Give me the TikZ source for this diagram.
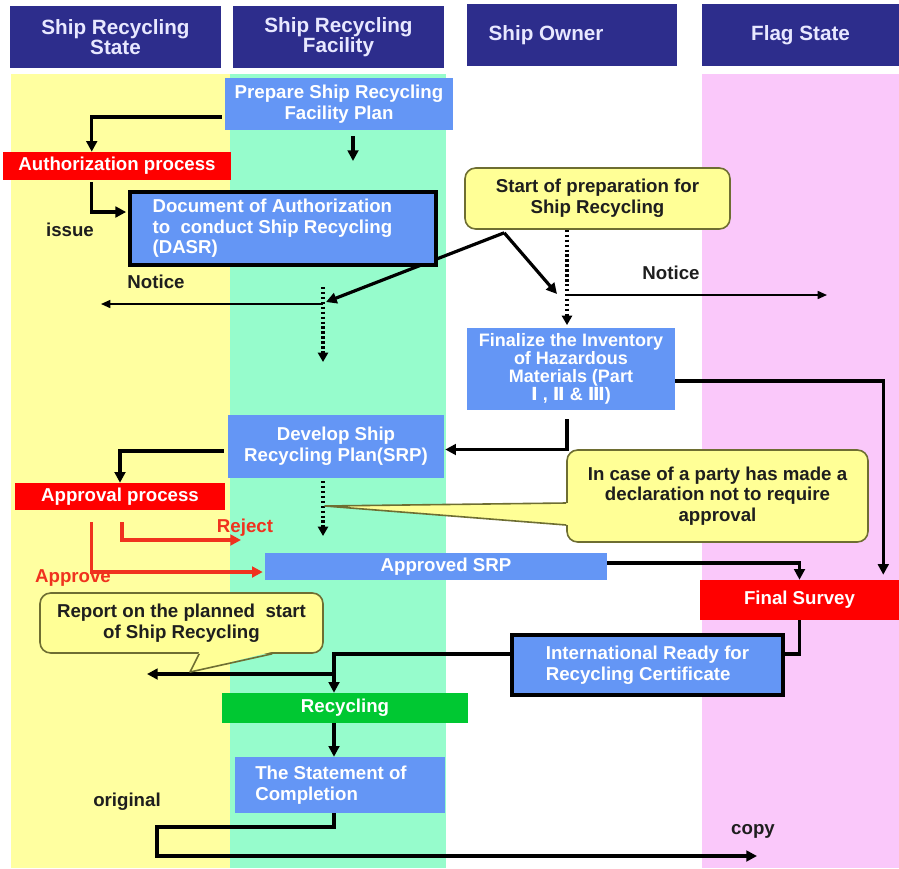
\documentclass[tikz,border=0pt]{standalone}
\usepackage{fontspec}
\setmainfont{Liberation Sans}
\newfontfamily\dv{DejaVu Sans}
\usetikzlibrary{arrows.meta,calc}
\pgfdeclarelayer{lanes}
\pgfdeclarelayer{bg}
\pgfsetlayers{lanes,bg,main}
\definecolor{cNavy}{RGB}{45,45,140}
\definecolor{cHd}{RGB}{232,232,255}
\definecolor{cLaneY}{RGB}{255,255,160}
\definecolor{cLaneG}{RGB}{150,252,204}
\definecolor{cLaneP}{RGB}{250,200,250}
\definecolor{cBlue}{RGB}{100,150,245}
\definecolor{cRed}{RGB}{255,0,0}
\definecolor{cGreen}{RGB}{0,200,50}
\definecolor{cFill}{RGB}{255,255,150}
\definecolor{cLine}{RGB}{110,110,50}
\definecolor{cRedLn}{RGB}{240,50,30}
\definecolor{cDark}{RGB}{30,30,30}
\begin{document}
\begin{tikzpicture}[x=0.75pt,y=-0.75pt,
  every node/.style={font=\fontsize{14}{15.5}\selectfont\bfseries, inner sep=0pt},
  sz/.style 2 args={minimum width=#1*0.75pt, minimum height=#2*0.75pt},
  header/.style={fill=cNavy, text=cHd, align=center, font=\fontsize{15.5}{15}\selectfont\bfseries},
  bluebox/.style={fill=cBlue, text=white, align=center},
  redbox/.style={fill=cRed, text=white, align=center},
  framed/.style={draw=black, line width=2.3pt},
  cbox/.style={fill=cFill, draw=cLine, line width=1.2pt, rounded corners=8pt, text=cDark, align=center},
  lbl/.style={text=cDark},
  rlbl/.style={text=cRedLn},
  conn/.style={draw=black, line width=2.4pt, -{Triangle[length=8pt,width=8pt]}},
  thinarrow/.style={draw=black, line width=1.2pt, -{Triangle[length=7pt,width=6pt]}},
  dotline/.style={draw=black, line width=2.6pt, dash pattern=on 1.8pt off 1.9pt, -{Triangle[length=7pt,width=7.5pt]}},
  redconn/.style={draw=cRedLn, line width=2.4pt, -{Triangle[length=8pt,width=8pt]}},
  tail/.style={draw=cLine, line width=1.2pt, line join=round}
]
\useasboundingbox (0,0) rectangle (899,868);
\begin{pgfonlayer}{lanes}
\fill[cLaneY] (11,74) rectangle (230,868);
\fill[cLaneG] (230,74) rectangle (446,868);
\fill[cLaneP] (702,74) rectangle (899,868);
\end{pgfonlayer}

% headers
\node[header, sz={211}{62}] (h1) at (115.5,37) {Ship Recycling\\State};
\node[header, sz={211}{62}] (h2) at (338.5,37) {Ship Recycling\\Facility};
\node[header, sz={210}{62}] (h3) at (572,35) {Ship Owner\hspace*{39pt}};
\node[header, sz={197}{62}] (h4) at (800.5,35) {Flag State};

% boxes
\node[bluebox, sz={228}{52}] (prep) at (339,104) {Prepare Ship Recycling\\Facility Plan};
\node[redbox, sz={228}{28}] (auth) at (117,166) {Authorization process};
\node[bluebox, framed, align=left, sz={306}{73}] (dasr) at (283,228.5) {Document of Authorization\hspace*{16pt}\\to\ \ conduct Ship Recycling\\(DASR)};
\node[cbox, sz={265}{61}] (start) at (597.5,198.5) {Start of preparation for\\Ship Recycling};
\node[bluebox, sz={208}{82}, font=\fontsize{13.5}{13.5}\selectfont\bfseries] (final) at (571,369) {Finalize the Inventory\\of Hazardous\\Materials (Part\\{\dv Ⅰ} , {\dv Ⅱ} \& {\dv Ⅲ})};
\node[bluebox, sz={216}{63}] (dev) at (336,446.5) {Develop Ship\\Recycling Plan(SRP)};
\node[redbox, sz={210}{27}] (appr) at (120,496.5) {Approval process};
\node[cbox, sz={301}{92}] (case) at (717.5,496) {In case of a party has made a\\declaration not to require\\approval};
\node[bluebox, sz={342}{27}] (asrp) at (436,566.5) {\hspace*{15pt}Approved SRP};
\node[redbox, sz={199}{40}] (fs) at (799.5,600) {Final Survey};
\node[bluebox, framed, align=left, sz={271}{60}] (irrc) at (647.5,665) {International Ready for\\Recycling Certificate};
\node[cbox, sz={283}{60}] (rep) at (181.5,623) {Report on the planned\ \ start\\of Ship Recycling};
\node[fill=cGreen, text=white, sz={246}{30}] (recy) at (345,708) {Recycling};
\node[bluebox, align=left, sz={210}{56}] (stmt) at (340,785) {The Statement of\hspace*{13.5pt}\\Completion};

% labels
\node[lbl] (issue) at (70,230) {issue};
\node[lbl] (notice1) at (156,282) {Notice};
\node[lbl] (notice2) at (671,273) {Notice};
\node[rlbl] (reject) at (245,528) {Reject};
\node[rlbl] (approve) at (73,578) {Approve};
\node[lbl] (orig) at (127,802) {original};
\node[lbl] (copylbl) at (753,831) {copy};

% connectors
\begin{pgfonlayer}{bg}
\draw[conn] ($(prep.west)+(-3,13)$) -| ($(auth.north west)+(89,0)$);
\coordinate (pa) at (353,161);
\draw[conn] ($(prep.south -| pa)+(0,6)$) -- (pa);
\draw[conn, shorten >=1pt] ($(auth.south west)+(89,2)$) |- ($(dasr.west)+(-1,-16.5)$);
\coordinate (sp) at ($(start.south west)+(40,3)$);
\coordinate (fdtop) at (323,287);
\coordinate (fdbot) at (323,362);
\coordinate (fdhit) at (326,302);
\coordinate (odhit) at (557,294);
\draw[conn] (sp) -- (fdhit);
\draw[conn] (sp) -- (odhit);
\draw[dotline] (fdtop) -- (fdbot);
\coordinate (n1) at (101,304);
\draw[thinarrow] (n1 -| fdtop) -- (n1);
\draw[dotline, shorten >=2pt] ($(start.south -| final.north)+(-4,0)$) -- ($(final.north)+(-4,0)$);
\coordinate (n2) at (827,295);
\draw[thinarrow] ($(n2 -| final.north)+(-4,0)$) -- (n2);
\draw[conn] ($(final.east)+(0,12)$) -| ($(fs.north east)+(-16,-5)$);
\draw[conn] ($(final.south)+(-4,9)$) |- ($(dev.east)+(1,3)$);
\draw[conn] ($(dev.west)+(-4,4.5)$) -| (appr.north);
\coordinate (fd2t) at (323,481);
\coordinate (fd2b) at (323,536);
\draw[dotline] (fd2t) -- (fd2b);
\coordinate (rj) at (241,540);
\draw[redconn] ($(appr.south)+(2,12)$) |- (rj);
\draw[redconn] ($(appr.south west)+(77,12)$) |- ($(asrp.west)+(-2,5.5)$);
\draw[conn] ($(asrp.east)+(0,-3.5)$) -| (fs.north);
\coordinate (j1) at (334,654);
\draw[conn] (fs.south) |- (j1) -- (j1 |- recy.north);
\coordinate (rp) at (147,674);
\draw[conn] (j1 |- rp) -- (rp);
\draw[conn] (recy.south -| j1) -- (stmt.north -| j1);
\coordinate (c1) at (157,827);
\coordinate (c2) at (757,856);
\draw[conn] (stmt.south -| j1) |- (c1) |- (c2);
\end{pgfonlayer}

% callout tails
\coordinate (tipA) at (325,506);
\fill[cFill] (tipA) -- ($(case.west)+(2,7)$) -- ($(case.west)+(2,29)$) -- cycle;
\draw[tail] ($(case.west)+(0,7)$) -- (tipA) -- ($(case.west)+(0,29)$);
\coordinate (tipB) at (190,672);
\fill[cFill] (tipB) -- ($(rep.south west)+(160,-2)$) -- ($(rep.south west)+(233,-2)$) -- cycle;
\draw[tail] ($(rep.south west)+(160,0)$) -- (tipB) -- ($(rep.south west)+(233,0)$);
\end{tikzpicture}
\end{document}
